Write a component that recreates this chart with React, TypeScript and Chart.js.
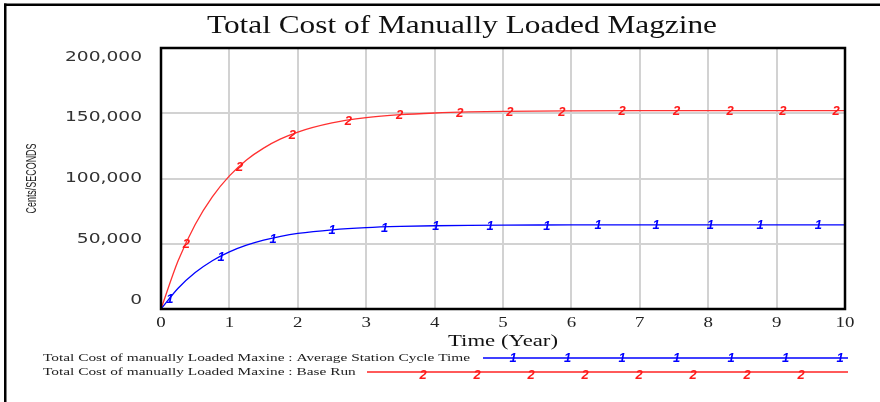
import { useEffect, useRef } from 'react';
import { Chart, registerables } from 'chart.js';

Chart.register(...registerables);

const TITLE = 'Total Cost of Manually Loaded Magzine';
const X_TITLE = 'Time (Year)';
const Y_TITLE = 'Cents/SECONDS';
const SERIES_NAMES = [
  'Total Cost of manually Loaded Maxine : Average Station Cycle Time',
  'Total Cost of manually Loaded Maxine : Base Run',
];
const SERIES_LABELS = ['1', '2'];

const TIMES = [0, 0.25, 0.5, 0.75, 1, 1.25, 1.5, 1.75, 2, 2.5, 3, 3.5, 4, 4.5, 5, 6, 7, 8, 9, 10];
const CYCLE_TIME = [0, 15900, 27900, 37000, 43800, 48900, 52800, 55700, 57900, 60700, 62400, 63300, 63800, 64100, 64300, 64400, 64500, 64500, 64500, 64500];
const BASE_RUN = [0, 36900, 64800, 85900, 102000, 114200, 123300, 130300, 135600, 142600, 146600, 148900, 150200, 151000, 151400, 151800, 152000, 152000, 152000, 152000];

const CYCLE_MARKER_TIMES = [0.13, 0.88, 1.64, 2.5, 3.27, 4.02, 4.81, 5.64, 6.39, 7.24, 8.03, 8.76, 9.61];
const BASE_MARKER_TIMES = [0.37, 1.15, 1.92, 2.74, 3.49, 4.37, 5.1, 5.86, 6.74, 7.54, 8.32, 9.09, 9.87];

const X_TICKS = [0, 1, 2, 3, 4, 5, 6, 7, 8, 9, 10];
const Y_TICKS = [0, 50000, 100000, 150000, 200000];

const BLUE = '#0000ff';
const RED = '#ff1a1a';

const interp = (xs: number[], ys: number[], t: number) => {
  for (let i = 1; i < xs.length; i++) {
    if (t <= xs[i]) {
      const f = (t - xs[i - 1]) / (xs[i] - xs[i - 1]);
      return ys[i - 1] + f * (ys[i] - ys[i - 1]);
    }
  }
  return ys[ys.length - 1];
};

const drawStretched = (
  ctx: CanvasRenderingContext2D,
  text: string,
  x: number,
  y: number,
  font: string,
  color: string,
  align: CanvasTextAlign,
  sx: number,
  rot = 0
) => {
  ctx.save();
  ctx.font = font;
  ctx.fillStyle = color;
  ctx.textBaseline = 'middle';
  ctx.textAlign = align;
  ctx.translate(x, y);
  if (rot) ctx.rotate(rot);
  ctx.scale(sx, 1);
  ctx.fillText(text, 0, 0);
  ctx.restore();
};

const fitScale = (ctx: CanvasRenderingContext2D, text: string, font: string, width: number) => {
  ctx.save();
  ctx.font = font;
  const w = ctx.measureText(text).width;
  ctx.restore();
  return width / w;
};

const MARK_FONT = 'italic bold 13px "Liberation Sans", Arial, sans-serif';

const drawMark = (ctx: CanvasRenderingContext2D, label: string, x: number, y: number, color: string) => {
  ctx.save();
  ctx.font = MARK_FONT;
  ctx.fillStyle = color;
  ctx.textAlign = 'center';
  ctx.textBaseline = 'middle';
  ctx.fillText(label, x, y + 1);
  ctx.restore();
};

const vensimPlugin = {
  id: 'vensim',
  afterDraw(chart: any) {
    const ctx: CanvasRenderingContext2D = chart.ctx;
    const { left, right, top, bottom } = chart.chartArea;
    const xs = chart.scales.x;
    const ys = chart.scales.y;

    // series markers
    CYCLE_MARKER_TIMES.forEach((t) => {
      drawMark(ctx, SERIES_LABELS[0], xs.getPixelForValue(t), ys.getPixelForValue(interp(TIMES, CYCLE_TIME, t)), BLUE);
    });
    BASE_MARKER_TIMES.forEach((t) => {
      drawMark(ctx, SERIES_LABELS[1], xs.getPixelForValue(t), ys.getPixelForValue(interp(TIMES, BASE_RUN, t)), RED);
    });

    // plot border
    ctx.save();
    ctx.strokeStyle = '#000';
    ctx.lineWidth = 2.5;
    ctx.strokeRect(left, top, right - left, bottom - top);
    ctx.restore();

    // outer frame (top & left)
    ctx.save();
    ctx.fillStyle = '#000';
    ctx.fillRect(4, 3.5, 876, 2.5);
    ctx.fillRect(4, 3.5, 2.5, 400);
    ctx.restore();

    // title
    const titleFont = '26px "Liberation Serif", "Times New Roman", serif';
    drawStretched(ctx, TITLE, 462, 26, titleFont, '#111', 'center', fitScale(ctx, TITLE, titleFont, 510));

    // x ticks
    const xTickFont = '14px "Liberation Serif", serif';
    X_TICKS.forEach((v) => {
      drawStretched(ctx, String(v), xs.getPixelForValue(v), 323, xTickFont, '#222', 'center', 1.35);
    });
    // x title
    const xTitleFont = '16px "Liberation Serif", serif';
    drawStretched(ctx, X_TITLE, (left + right) / 2, 342, xTitleFont, '#111', 'center', fitScale(ctx, X_TITLE, xTitleFont, 110));

    // y ticks
    const yTickFont = '14px "DejaVu Sans", sans-serif';
    const mid = (top + bottom) / 2;
    Y_TICKS.forEach((v) => {
      const p = ys.getPixelForValue(v);
      const py = mid + (p - mid) * 0.93;
      drawStretched(ctx, v.toLocaleString('en-US'), 142, py, yTickFont, '#333', 'right', 1.33);
    });
    // y title
    const yTitleFont = '14px "Liberation Sans Narrow", "Liberation Sans", sans-serif';
    drawStretched(ctx, Y_TITLE, 32, mid, yTitleFont, '#222', 'center', fitScale(ctx, Y_TITLE, yTitleFont, 70), -Math.PI / 2);

    // legend
    const legFont = '11px "Liberation Serif", serif';
    const lsx = fitScale(ctx, SERIES_NAMES[0], legFont, 427);
    drawStretched(ctx, SERIES_NAMES[0], 43, 358, legFont, '#222', 'left', lsx);
    drawStretched(ctx, SERIES_NAMES[1], 43, 372, legFont, '#222', 'left', lsx);

    ctx.save();
    ctx.strokeStyle = BLUE;
    ctx.lineWidth = 1.5;
    ctx.beginPath();
    ctx.moveTo(483, 358);
    ctx.lineTo(848, 358);
    ctx.stroke();
    ctx.strokeStyle = '#ff5a5a';
    ctx.lineWidth = 1.8;
    ctx.beginPath();
    ctx.moveTo(367, 372);
    ctx.lineTo(848, 372);
    ctx.stroke();
    ctx.restore();
    for (let k = 0; k < 7; k++) drawMark(ctx, SERIES_LABELS[0], 513 + k * 54.5, 357, BLUE);
    for (let k = 0; k < 8; k++) drawMark(ctx, SERIES_LABELS[1], 423 + k * 54, 374, RED);
  },
};

export default function App() {
  const ref = useRef<HTMLCanvasElement>(null);
  useEffect(() => {
    if (!ref.current) return;
    const chart = new Chart(ref.current, {
      type: 'line',
      data: {
        datasets: [
          {
            label: SERIES_NAMES[0],
            data: TIMES.map((t, i) => ({ x: t, y: CYCLE_TIME[i] })),
            borderColor: BLUE,
            borderWidth: 1.3,
            pointRadius: 0,
            fill: false,
            cubicInterpolationMode: 'monotone',
          },
          {
            label: SERIES_NAMES[1],
            data: TIMES.map((t, i) => ({ x: t, y: BASE_RUN[i] })),
            borderColor: '#ff3030',
            borderWidth: 1.3,
            pointRadius: 0,
            fill: false,
            cubicInterpolationMode: 'monotone',
          },
        ],
      },
      options: {
        responsive: false,
        animation: false,
        events: [],
        layout: { padding: { top: 48, right: 35, left: 0, bottom: 0 } },
        plugins: {
          legend: { display: false },
          title: { display: false },
          tooltip: { enabled: false },
        },
        scales: {
          x: {
            type: 'linear',
            min: 0,
            max: 10,
            ticks: { display: false, stepSize: 1 },
            grid: { color: '#d2d2d2', lineWidth: 2, drawTicks: false },
            border: { display: false },
            afterFit: (s: any) => {
              s.height = 93;
            },
          },
          y: {
            type: 'linear',
            min: 0,
            max: 200000,
            ticks: { display: false, stepSize: 50000 },
            grid: { color: '#d2d2d2', lineWidth: 2, drawTicks: false },
            border: { display: false },
            afterFit: (s: any) => {
              s.width = 161;
            },
          },
        },
      },
      plugins: [vensimPlugin],
    } as any);
    return () => chart.destroy();
  }, []);
  return (
    <div style={{ position: 'absolute', left: 0, top: 0, width: 880, height: 402, background: '#fff' }}>
      <canvas ref={ref} width={880} height={402} />
    </div>
  );
}
